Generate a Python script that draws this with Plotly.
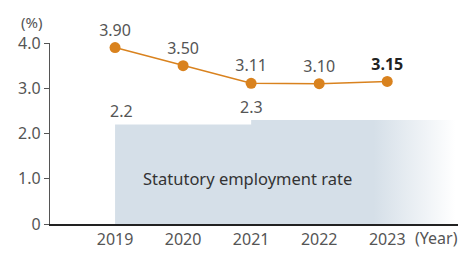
import plotly.graph_objects as go

years = ["2019", "2020", "2021", "2022", "2023"]
rates = [3.90, 3.50, 3.11, 3.10, 3.15]
rate_labels = ["3.90", "3.50", "3.11", "3.10", "<b>3.15</b>"]
statutory = [2.2, 2.2, 2.3, 2.3, 2.3]
y_ticks = [0, 1, 2, 3, 4]
y_ticktext = ["0", "1.0", "2.0", "3.0", "4.0"]

xs = list(range(len(years)))
FONT = "Noto Sans, Open Sans, sans-serif"
ORANGE = "#D9821E"
SHADE = "#D5DFE8"

fig = go.Figure()

# statutory employment rate step area with fade on the right
fig.add_trace(go.Scatter(
    x=xs + [len(years)], y=statutory + [statutory[-1]],
    mode="lines", line=dict(width=0, shape="hv"),
    fill="tozeroy",
    fillgradient=dict(type="horizontal",
                      colorscale=[[0, SHADE], [0.76, SHADE], [1, "rgba(213,223,232,0)"]]),
    hoverinfo="skip", showlegend=False,
))

fig.add_trace(go.Scatter(
    x=xs, y=rates, mode="lines+markers+text",
    line=dict(color=ORANGE, width=1.5),
    marker=dict(color=ORANGE, size=11),
    text=rate_labels, textposition="top center",
    textfont=dict(family=FONT, size=16, color=["#555"] * 4 + ["#222"]),
    cliponaxis=False, showlegend=False,
))

# step labels
prev = None
for i, v in enumerate(statutory):
    if v != prev:
        fig.add_annotation(x=i + (0.1 if i == 0 else 0), y=v, text=f"{v:.1f}",
                           yshift=13, showarrow=False,
                           font=dict(family=FONT, size=16, color="#555"))
    prev = v

fig.add_annotation(x=1.94, y=1.0, text="Statutory employment rate", showarrow=False,
                   font=dict(family=FONT, size=16.5, color="#333"))
fig.add_annotation(xref="paper", yref="paper", x=0, y=1, xanchor="right", yanchor="bottom",
                   xshift=-6, yshift=9, text="(%)", showarrow=False,
                   font=dict(family=FONT, size=15, color="#555"))
fig.add_annotation(x=4, y=0, xanchor="left", yanchor="top", xshift=26, yshift=-1,
                   text="(Year)", showarrow=False,
                   font=dict(family=FONT, size=16, color="#555"))

fig.update_layout(
    width=461, height=253,
    margin=dict(l=50, r=3, t=43, b=27),
    paper_bgcolor="white", plot_bgcolor="white",
    xaxis=dict(range=[-0.956, 5.04], tickvals=xs, ticktext=years,
               showgrid=False, zeroline=False, showline=True, linecolor="#222", linewidth=1.5,
               ticks="", tickfont=dict(family=FONT, size=16, color="#555")),
    yaxis=dict(range=[0, 4], tickvals=y_ticks, ticktext=y_ticktext,
               showgrid=False, zeroline=False, showline=True, linecolor="#555", linewidth=1.2,
               ticks="outside", ticklen=5, tickcolor="#555",
               tickfont=dict(family=FONT, size=16, color="#555")),
)

fig.write_html("out.html", config={"displayModeBar": False},
               post_script="document.body.style.margin='0';document.body.style.overflow='hidden';")
